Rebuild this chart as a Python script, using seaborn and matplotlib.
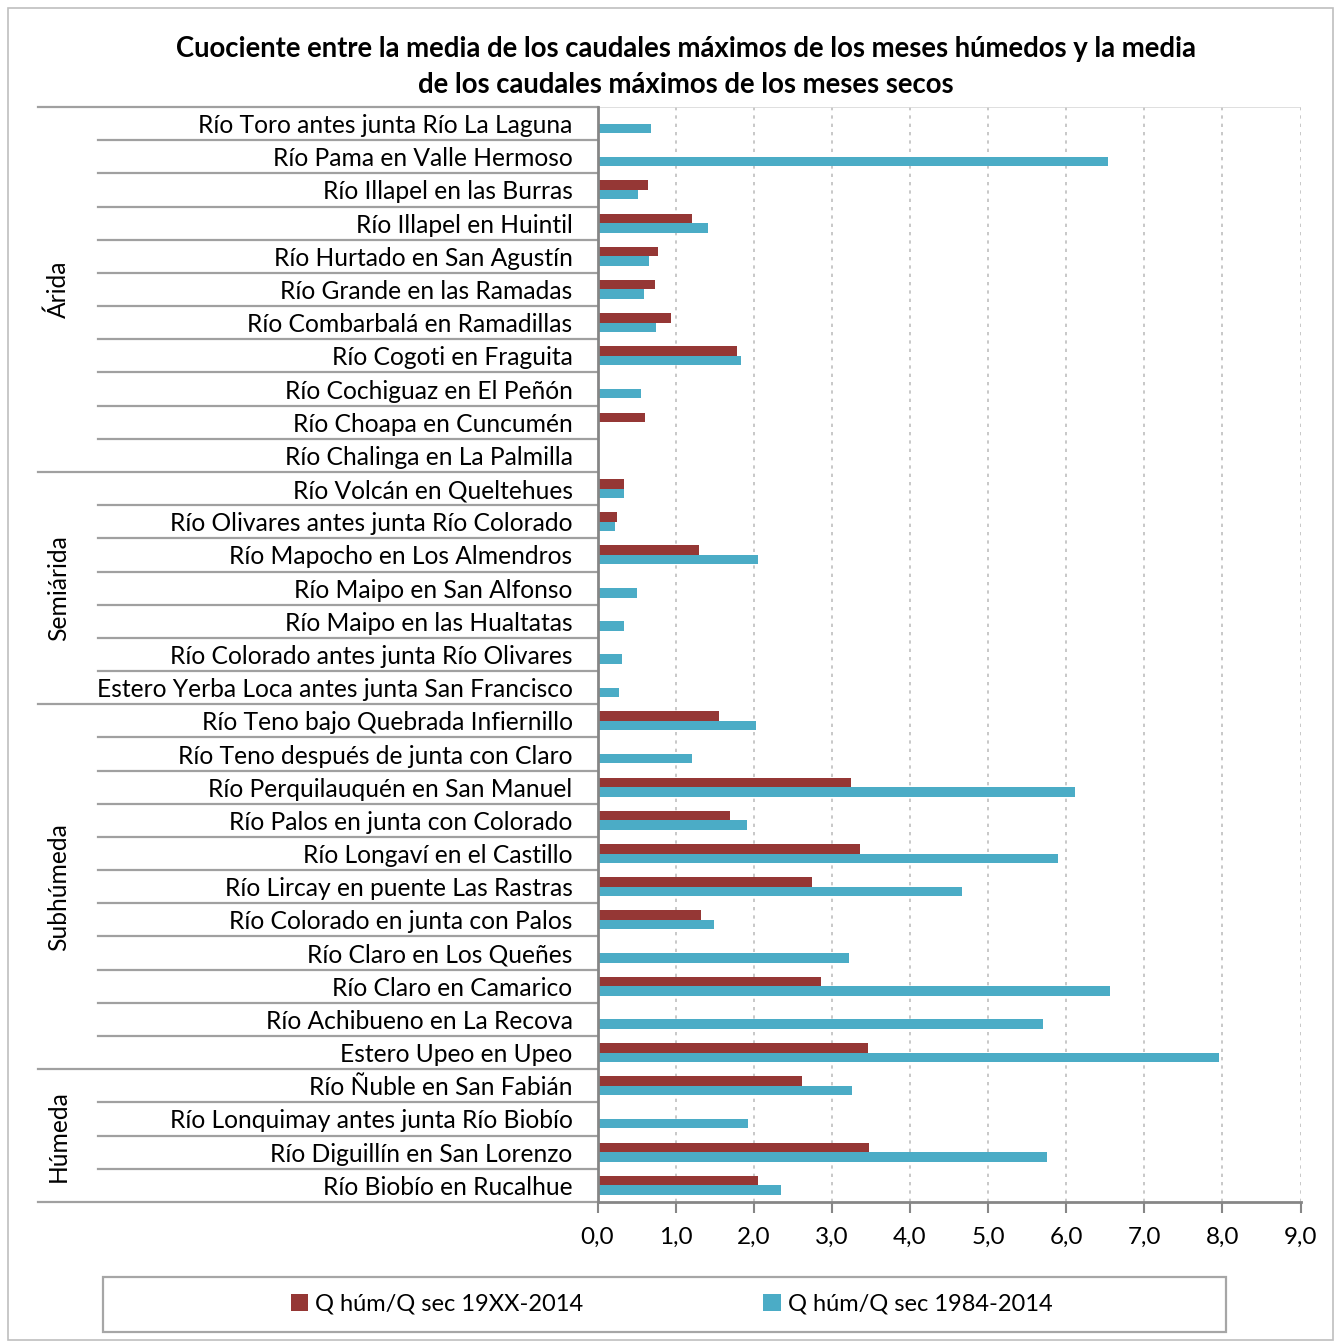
import numpy as np
import pandas as pd
import seaborn as sns
import matplotlib.pyplot as plt
from matplotlib.patches import Rectangle
from matplotlib.ticker import FuncFormatter
import matplotlib.transforms as mtransforms

# station names, top to bottom, grouped by climate zone
grupos = ["Árida", "Semiárida", "Subhúmeda", "Húmeda"]
estaciones = {
    "Árida": ["Río Toro antes junta Río La Laguna", "Río Pama en Valle Hermoso",
              "Río Illapel en las Burras", "Río Illapel en Huintil",
              "Río Hurtado en San Agustín", "Río Grande en las Ramadas",
              "Río Combarbalá en Ramadillas", "Río Cogoti en Fraguita",
              "Río Cochiguaz en El Peñón", "Río Choapa en Cuncumén",
              "Río Chalinga en La Palmilla"],
    "Semiárida": ["Río Volcán en Queltehues", "Río Olivares antes junta Río Colorado",
                  "Río Mapocho en Los Almendros", "Río Maipo en San Alfonso",
                  "Río Maipo en las Hualtatas", "Río Colorado antes junta Río Olivares",
                  "Estero Yerba Loca antes junta San Francisco"],
    "Subhúmeda": ["Río Teno bajo Quebrada Infiernillo", "Río Teno después de junta con Claro",
                  "Río Perquilauquén en San Manuel", "Río Palos en junta con Colorado",
                  "Río Longaví en el Castillo", "Río Lircay en puente Las Rastras",
                  "Río Colorado en junta con Palos", "Río Claro en Los Queñes",
                  "Río Claro en Camarico", "Río Achibueno en La Recova",
                  "Estero Upeo en Upeo"],
    "Húmeda": ["Río Ñuble en San Fabián", "Río Lonquimay antes junta Río Biobío",
               "Río Diguillín en San Lorenzo", "Río Biobío en Rucalhue"],
}

serie1 = "Q húm/Q sec 19XX-2014"
serie2 = "Q húm/Q sec 1984-2014"
nan = np.nan
q_19xx = [nan, nan, 0.64, 1.21, 0.78, 0.74, 0.94, 1.79, nan, 0.61, nan,
          0.34, 0.25, 1.30, nan, nan, nan, nan,
          1.55, nan, 3.24, 1.69, 3.36, 2.75, 1.33, nan, 2.86, nan, 3.46,
          2.62, nan, 3.48, 2.05]
q_1984 = [0.69, 6.54, 0.52, 1.41, 0.66, 0.59, 0.75, 1.84, 0.56, nan, nan,
          0.34, 0.22, 2.06, 0.51, 0.34, 0.31, 0.28,
          2.03, 1.21, 6.11, 1.91, 5.89, 4.66, 1.49, 3.22, 6.56, 5.70, 7.95,
          3.26, 1.92, 5.75, 2.35]

nombres = [n for g in grupos for n in estaciones[g]]
df = pd.DataFrame({"estacion": nombres * 2,
                   "serie": [serie1] * len(nombres) + [serie2] * len(nombres),
                   "valor": q_19xx + q_1984})

fnt = "Lato"
plt.rcParams["font.family"] = [fnt, "DejaVu Sans"]

fig = plt.figure(figsize=(13.35, 13.44), dpi=100)
ax = fig.add_axes([0.4476, 0.1057, 0.5266, 0.8147])

sns.barplot(data=df, y="estacion", x="valor", hue="serie", order=nombres,
            hue_order=[serie1, serie2], palette=["#953735", "#4BACC6"], saturation=1,
            orient="h", width=0.57, errorbar=None, ax=ax, edgecolor="none")

handles, labels = ax.get_legend_handles_labels()
ax.get_legend().remove()

n = len(nombres)
ax.set_ylim(n - 0.5, -0.5)
ax.set_xlim(0, 9)
ax.set_xticks(range(0, 10))
ax.xaxis.set_major_formatter(FuncFormatter(lambda v, p: f"{v:.1f}".replace(".", ",")))
ax.set_xlabel("")
ax.set_ylabel("")
ax.tick_params(axis="x", length=8, width=1.5, color="#868686", labelsize=17.5, pad=10)
ax.tick_params(axis="y", length=0, labelsize=17.7, pad=18)
ax.grid(axis="x", color="#bfbfbf", linestyle=(0, (2, 3)), linewidth=1.2)
ax.set_axisbelow(True)
for s in ["top", "right"]:
    ax.spines[s].set_visible(False)
ax.spines["left"].set_color("#868686")
ax.spines["left"].set_linewidth(2)
ax.spines["bottom"].set_color("#868686")
ax.spines["bottom"].set_linewidth(2)
ax.axhline(-0.5, color="#d9d9d9", lw=1.2)

# table-like lines of the multi-level category axis
trans = mtransforms.blended_transform_factory(ax.transAxes, ax.transData)
inicio = 0
limites_grupo = [-0.5]
for g in grupos:
    k = len(estaciones[g])
    ax.text(-0.767, inicio + (k - 1) / 2, g, rotation=90, ha="center", va="center",
            fontsize=17.7, transform=trans)
    inicio += k
    limites_grupo.append(inicio - 0.5)
for i in range(n + 1):
    y = i - 0.5
    x0 = -0.796 if y in limites_grupo else -0.7105
    ax.plot([x0, 0], [y, y], color="#a0a0a0", lw=1.6, transform=trans, clip_on=False)

fig.suptitle("Cuociente entre la media de los caudales máximos de los meses húmedos y la media\n"
             "de los caudales máximos de los meses secos",
             x=0.514, y=0.973, fontsize=19.8, fontweight="bold", linespacing=1.45)

fig.patches.append(Rectangle((0.077, 0.0089), 0.8412, 0.0409, transform=fig.transFigure,
                             fill=False, edgecolor="#a6a6a6", lw=1.6))
fig.patches.append(Rectangle((0.006, 0.003), 0.9925, 0.991, transform=fig.transFigure,
                             fill=False, edgecolor="#bfbfbf", lw=1.2))
fig.legend(handles, labels, loc="center", bbox_to_anchor=(0.503, 0.0295), ncol=2,
           frameon=False, fontsize=17, handlelength=0.75, handleheight=0.75,
           handletextpad=0.3, columnspacing=7.6)

fig.savefig("out.png", dpi=100)
